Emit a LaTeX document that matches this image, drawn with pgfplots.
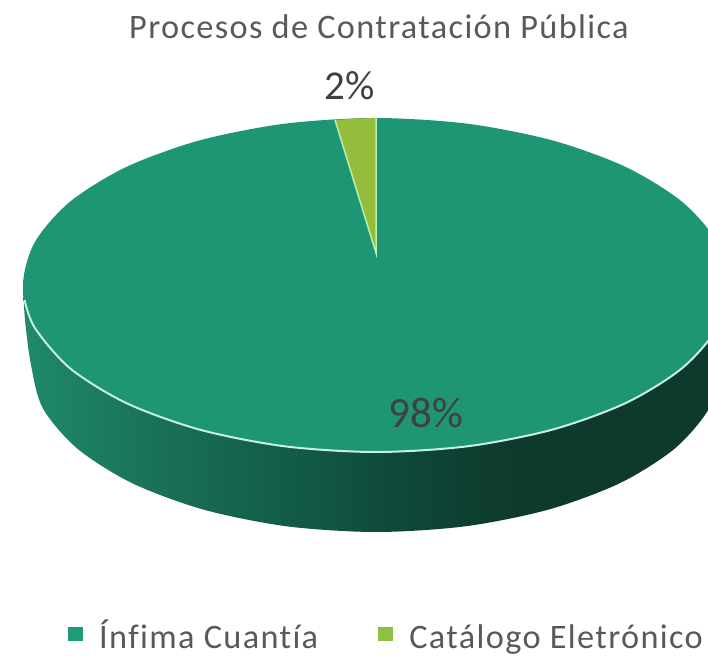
\documentclass[border=0pt]{standalone}
\usepackage{pgfplots}
\pgfplotsset{compat=1.18}
\usepackage{fontspec}
\setmainfont{Carlito}[Ligatures=NoCommon]
\newfontfamily\spaced[LetterSpace=4.0,Ligatures=NoCommon]{Carlito}
\definecolor{topg}{HTML}{1E9674}
\definecolor{sliceg}{HTML}{93BD3A}
\definecolor{legg}{HTML}{8CC142}
\definecolor{legt}{HTML}{1E9B78}
\definecolor{edgeg}{HTML}{C5F0E3}
\definecolor{edgeh}{HTML}{B9EFB0}
\definecolor{txtt}{HTML}{595959}
\definecolor{txtd}{HTML}{404040}
\definecolor{HTMLa}{HTML}{1F8A6B}
\definecolor{HTMLb}{HTML}{1C7B5F}
\definecolor{HTMLc}{HTML}{176A51}
\definecolor{HTMLd}{HTML}{125A46}
\definecolor{HTMLe}{HTML}{0F4C3B}
\definecolor{HTMLf}{HTML}{0E3F31}
\definecolor{HTMLg}{HTML}{0E3A2D}
\pgfdeclarehorizontalshading{sideg}{100bp}{
 color(0bp)=(HTMLa);color(25bp)=(HTMLa);color(30.5bp)=(HTMLb);color(37.5bp)=(HTMLc);
 color(44.6bp)=(HTMLd);color(50.3bp)=(HTMLe);color(56.7bp)=(HTMLf);color(60.2bp)=(HTMLg);color(100bp)=(HTMLg)}
\begin{document}
\begin{tikzpicture}
\useasboundingbox (0,0) rectangle (708pt,655pt);
\begin{axis}[
  scale only axis, width=708pt, height=655pt,
  xmin=0, xmax=708, ymin=0, ymax=655, y dir=reverse,
  hide axis,
  legend columns=2,
  legend cell align=left,
  legend style={draw=none, fill=none, at={(axis cs:68,655)}, anchor=south west,
    font=\spaced\fontsize{34.3}{36}\selectfont, text=txtt,
    inner xsep=0pt, inner ysep=0pt,
    nodes={text height=26pt, text depth=4pt},
    /tikz/every odd column/.append style={column sep=14pt},
    /tikz/every even column/.append style={column sep=58pt}},
  legend image code/.code={\fill[draw=none,#1] (0pt,-3pt) rectangle (15pt,11pt);},
]
% rim (side of the disc)
\addplot[forget plot, shading=sideg, draw=none, smooth] coordinates {
 (23,285)(25,320)(31,365)(42.8,408.2)(77.2,448.5)(132,483.1)(203.5,509.6)(286.7,526.3)(376,532)
 (465.3,526.3)(548.5,509.6)(620,483.1)(674.8,448.5)(709.2,408.2)(721,365)(729,285)};
% top face of the larger slice
\addplot[forget plot, fill=topg, draw=none, smooth] coordinates {
 (729,285)(717,241.8)(681.7,201.5)(625.6,166.9)(552.5,140.4)(467.4,123.7)(376,118)
 (284.6,123.7)(199.5,140.4)(126.4,166.9)(70.3,201.5)(35,241.8)(23,285)
 (35,328.2)(70.3,368.5)(126.4,403.1)(199.5,429.6)(284.6,446.3)(376,452)
 (467.4,446.3)(552.5,429.6)(625.6,403.1)(681.7,368.5)(717,328.2)(729,285)};
% front edge highlight
\addplot[forget plot, draw=edgeg, line width=2pt, smooth] coordinates {
 (24.5,300)(35,328.2)(70.3,368.5)(126.4,403.1)(199.5,429.6)(284.6,446.3)(376,452)
 (467.4,446.3)(552.5,429.6)(625.6,403.1)(681.7,368.5)(717,328.2)(729,285)};
% small slice
\addplot[forget plot, fill=sliceg, draw=none] coordinates {(376,253)(376,118)(355,118.5)(335,120)(376,253)};
\addplot[forget plot, draw=edgeh, line width=1.5pt] coordinates {(335,120)(376,253)(376,118)};
\addlegendimage{fill=legt,draw=none}
\addlegendentry{Ínfima Cuantía}
\addlegendimage{fill=legg,draw=none}
\addlegendentry{Catálogo Eletrónico}
\node[anchor=base, text=txtt, font=\spaced\fontsize{34.3}{36}\selectfont] at (axis cs:379,39) {Procesos de Contratación Pública};
\node[anchor=base, text=txtd, font=\fontsize{41}{44}\selectfont] at (axis cs:350,100) {2\%};
\node[anchor=base, text=txtd, font=\fontsize{43}{46}\selectfont] at (axis cs:426,427) {98\%};
\end{axis}
\end{tikzpicture}
\end{document}
